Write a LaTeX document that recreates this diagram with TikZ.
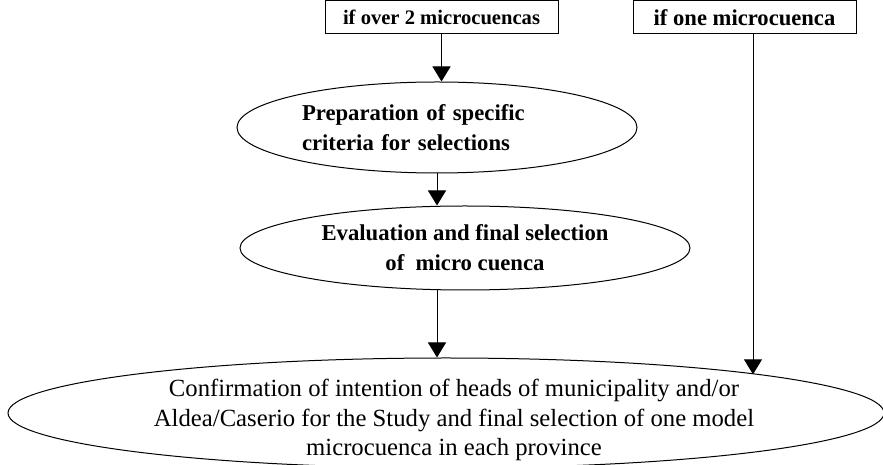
\documentclass[tikz,border=0pt]{standalone}
\usepackage{fontspec}
\setmainfont{Liberation Serif}
\usetikzlibrary{positioning,arrows.meta,shapes.geometric}

\begin{document}
\begin{tikzpicture}[
  x=1pt, y=1pt,
  font=\fontsize{22.7}{30}\selectfont\bfseries,
  casebox/.style={draw, line width=1pt, minimum height=33pt, inner sep=2pt},
  stage/.style={draw, ellipse, line width=1pt, inner sep=0pt},
  flow/.style={-{Triangle[length=15pt, width=18pt]}, line width=1pt},
  ]
  \useasboundingbox (0,0) rectangle (883,465);
  \node[casebox, minimum width=233pt, font=\fontsize{20.6}{24}\selectfont\bfseries]
    (over) at (441.5,447.5) {if over 2 microcuencas};
  \node[casebox, minimum width=223pt, font=\fontsize{22.6}{24}\selectfont\bfseries]
    (one) at (744.5,447.5) {if one microcuenca};
  \node[stage, minimum width=400pt, minimum height=91pt, text width=270pt,
    align=left] (prep) at (437,337.5) {Preparation of specific\\criteria for selections};
  \node[stage, minimum width=450pt, minimum height=84pt, align=center,
    below=32pt of prep, xshift=28pt] (eval) {Evaluation and final selection\\of~~micro cuenca};
  \node[stage, minimum width=876pt, minimum height=110pt] (conf) at (446,52) {};
  \node[align=center, font=\fontsize{24.7}{29.5}\selectfont]
    (confText) at ([xshift=8pt, yshift=-7pt]conf.center)
    {Confirmation of intention of heads of municipality and/or\\
     Aldea/Caserio for the Study and final selection of one model\\
     microcuenca in each province};
  \coordinate (drop) at ([xshift=8.5pt]one.south);
  \draw[flow] (over.south) -- (over.south |- prep.north);
  \draw[flow] (prep.south) -- (prep.south |- eval.north);
  \draw[flow] (prep.south |- eval.south) -- (prep.south |- conf.north);
  \draw[flow] (drop) -- (drop |- conf.7);
\end{tikzpicture}
\end{document}
